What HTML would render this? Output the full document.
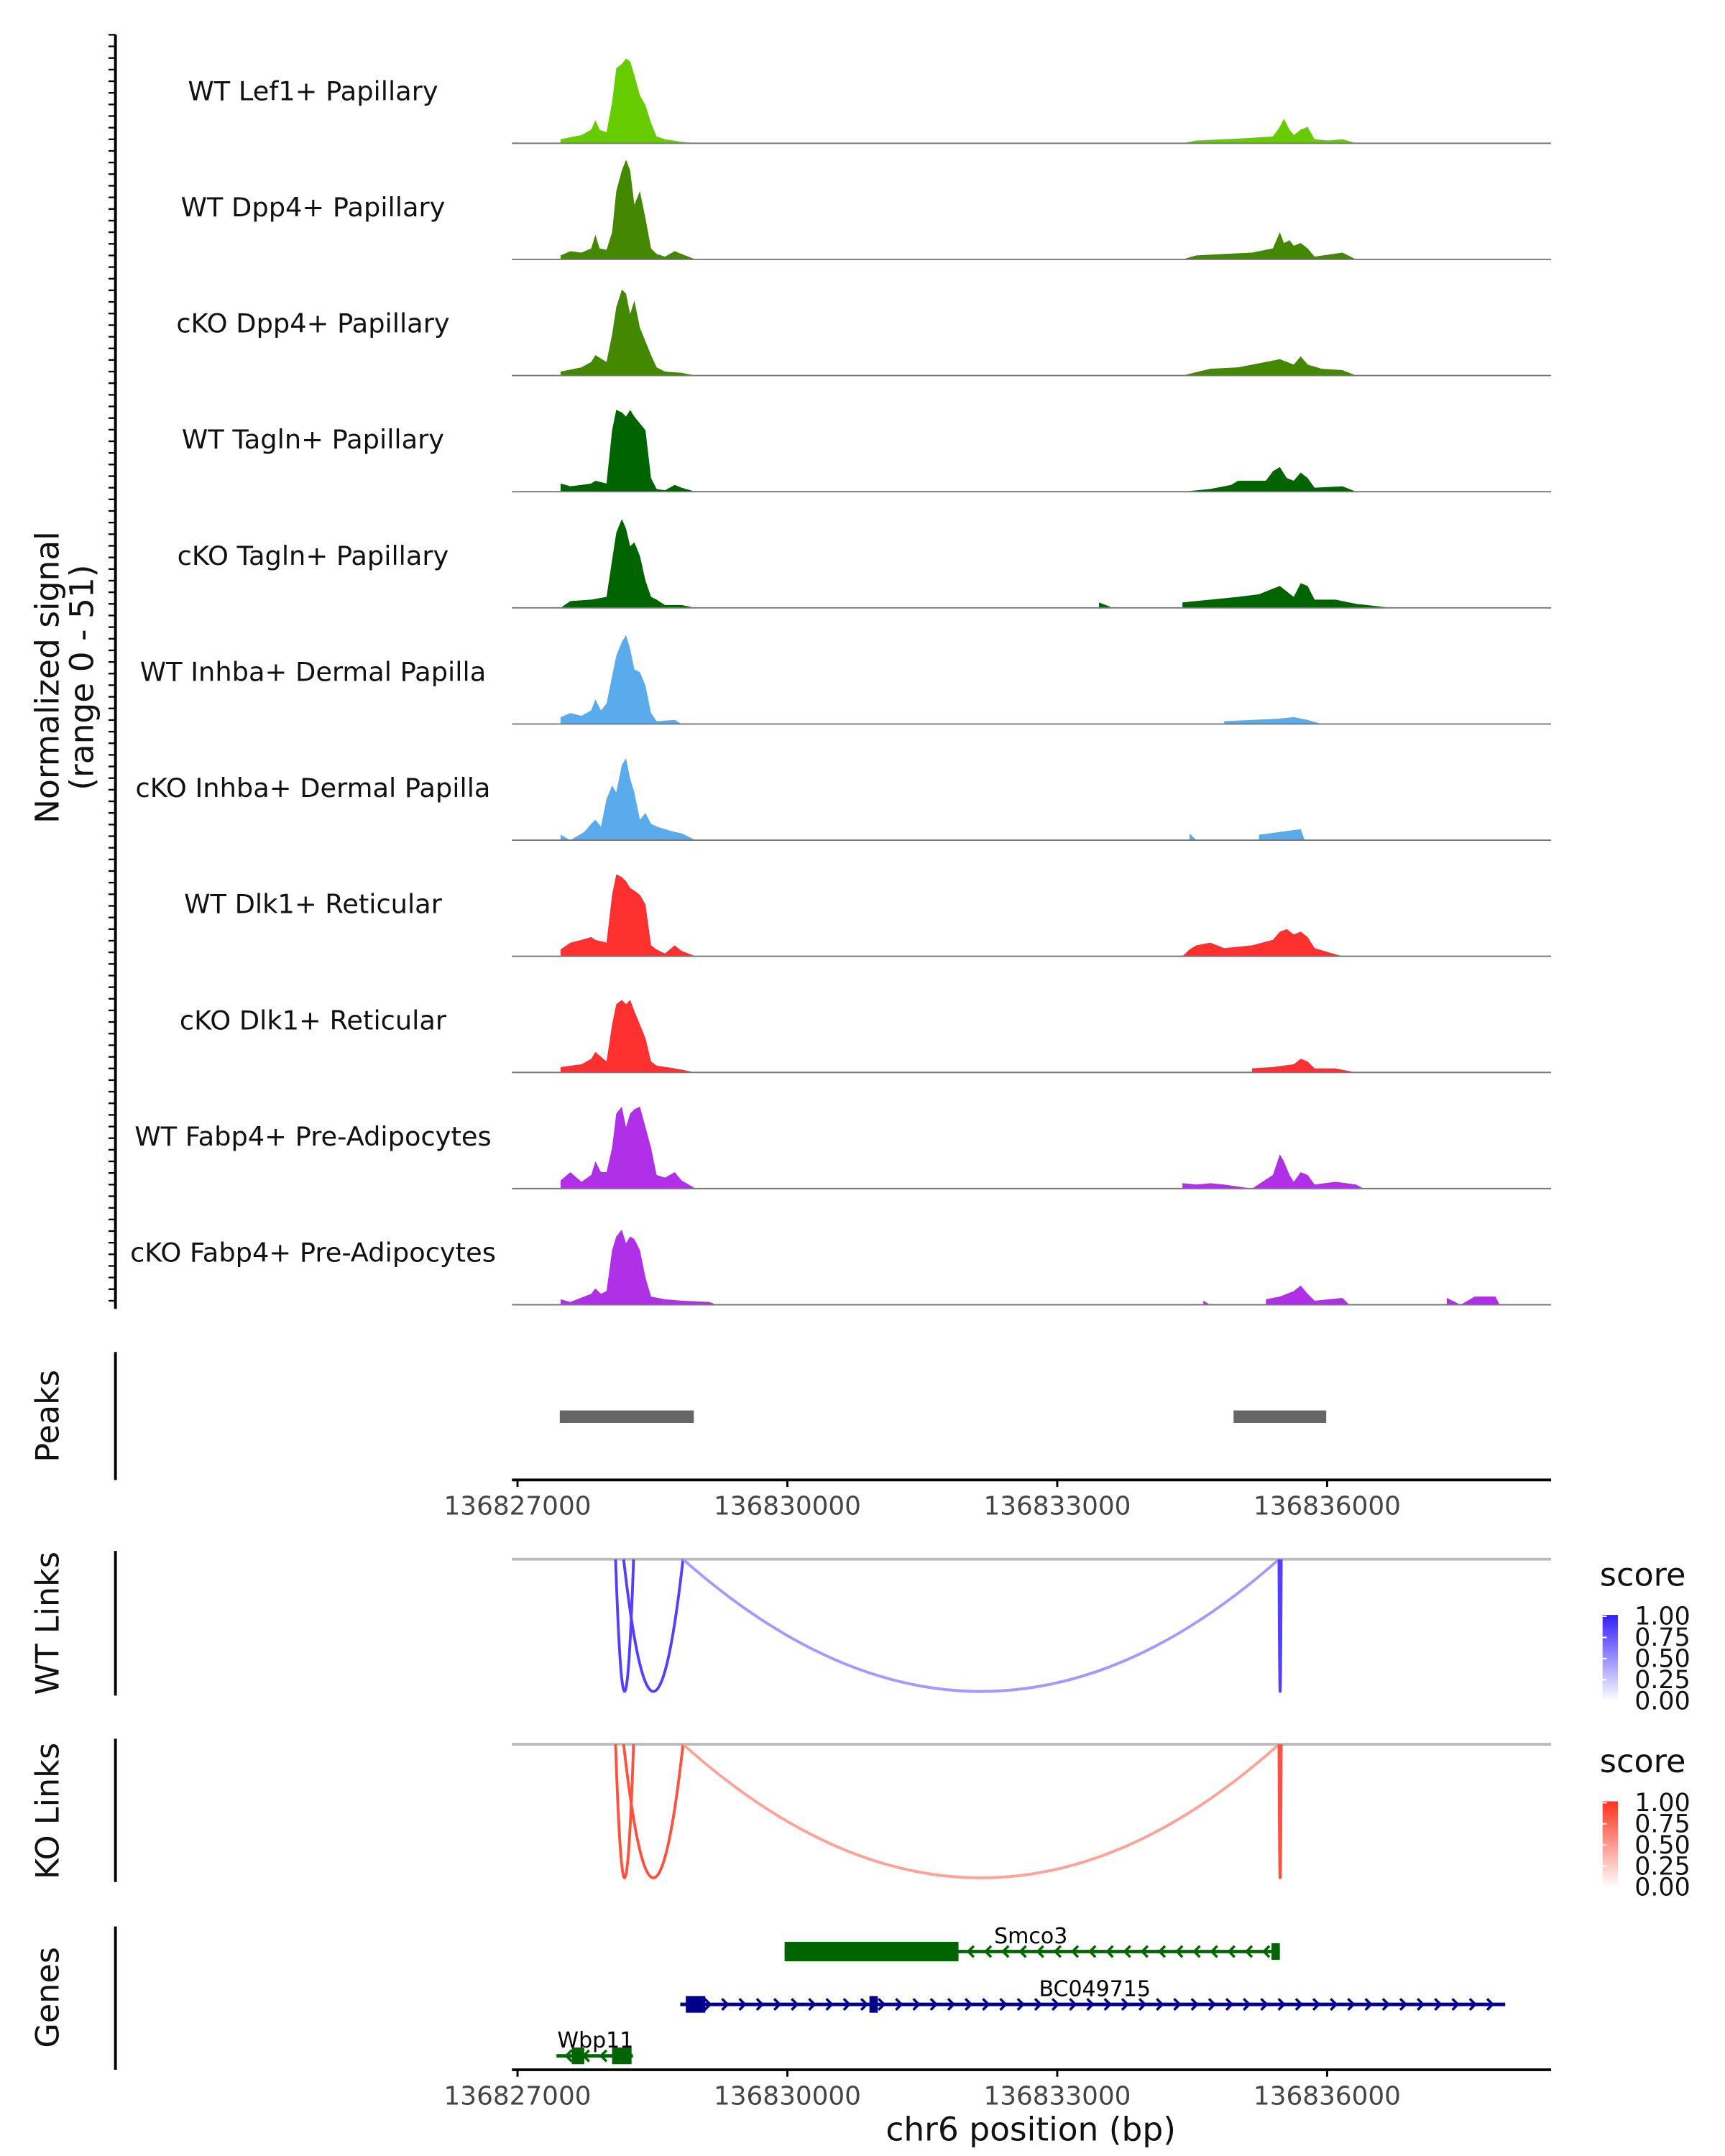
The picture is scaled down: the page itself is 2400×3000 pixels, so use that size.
<!DOCTYPE html>
<html><head><meta charset="utf-8"><style>
html,body{margin:0;padding:0;background:#fff;}
svg{display:block;font-family:"DejaVu Sans","Liberation Sans",sans-serif;}
</style></head><body>
<svg id="chart" width="2400" height="3000" viewBox="0 0 1240 1550" preserveAspectRatio="none" xmlns="http://www.w3.org/2000/svg">
<rect width="1240" height="1550" fill="#fff"/>
<text transform="translate(42,487) rotate(-90)" text-anchor="middle" font-size="23.5" fill="#111">Normalized signal</text>
<text transform="translate(67,487) rotate(-90)" text-anchor="middle" font-size="23.5" fill="#111">(range 0 - 51)</text>
<line x1="83" y1="25" x2="83" y2="941" stroke="#000" stroke-width="2"/>
<g id="ticks"></g>
<g id="tracks"></g>
<text transform="translate(42,1018) rotate(-90)" text-anchor="middle" font-size="23" fill="#111">Peaks</text>
<line x1="83" y1="972" x2="83" y2="1064" stroke="#000" stroke-width="2"/>
<g id="peaks"></g>
<g id="axis1"></g>
<text transform="translate(42,1167) rotate(-90)" text-anchor="middle" font-size="23" fill="#111">WT Links</text>
<line x1="83" y1="1115" x2="83" y2="1219" stroke="#000" stroke-width="2"/>
<text transform="translate(42,1302) rotate(-90)" text-anchor="middle" font-size="23" fill="#111">KO Links</text>
<line x1="83" y1="1250" x2="83" y2="1353" stroke="#000" stroke-width="2"/>
<g id="links"></g>
<text transform="translate(42,1436) rotate(-90)" text-anchor="middle" font-size="23" fill="#111">Genes</text>
<line x1="83" y1="1385" x2="83" y2="1488" stroke="#000" stroke-width="2"/>
<g id="genes"></g>
<g id="axis2"></g>
<text x="741" y="1539" text-anchor="middle" font-size="23.5" fill="#111">chr6 position (bp)</text>
</svg>
<script>
const START = 136827000;
const trackNames = ["WT Lef1+ Papillary","WT Dpp4+ Papillary","cKO Dpp4+ Papillary","WT Tagln+ Papillary","cKO Tagln+ Papillary","WT Inhba+ Dermal Papilla","cKO Inhba+ Dermal Papilla","WT Dlk1+ Reticular","cKO Dlk1+ Reticular","WT Fabp4+ Pre-Adipocytes","cKO Fabp4+ Pre-Adipocytes"];
const trackColors = ["#66cc00","#448800","#448800","#006400","#006400","#5aabeb","#5aabeb","#ff3030","#ff3030","#b030e8","#b030e8"];
// positions as bp offsets from START; values are signal
const pos1 = [480,711,820,866,912,990,1052,1098,1160,1206,1253,1299,1361,1423,1485,1546,1639,1825,1979, 7392,7546,7856,8165,8397,8474,8520,8582,8629,8706,8783,8861,9015,9170,9324];
const val1 = [3,6,10,17,10,8,30,55,58,62,60,50,35,28,15,5,3,1,0, 0,2,3,4,5,12,18,10,6,10,12,3,2,3,0];
const pos2 = [480,588,711,820,866,912,990,1052,1098,1160,1206,1253,1299,1361,1423,1485,1546,1639,1747,1825,1979, 7392,7546,7856,8165,8397,8474,8520,8582,8629,8706,8783,8861,9170,9324];
const val2 = [3,6,5,8,18,8,7,20,50,65,73,65,40,50,30,8,4,2,6,4,0, 0,3,4,5,8,20,12,14,10,12,8,2,5,0];
const pos3 = [480,711,820,866,990,1052,1098,1160,1206,1253,1299,1361,1423,1485,1546,1639,1825,1979, 7392,7701,8010,8320,8474,8629,8706,8783,8938,9170,9324];
const val3 = [3,6,10,15,10,30,50,63,60,45,55,35,25,15,6,3,2,0, 0,5,6,10,12,8,14,8,5,4,0];
const pos4 = [480,588,711,820,866,990,1052,1098,1160,1206,1253,1299,1361,1423,1485,1546,1639,1747,1825,1979, 7392,7701,7933,8010,8320,8397,8474,8551,8629,8706,8783,8861,9170,9324];
const val4 = [6,4,5,6,8,6,45,60,58,55,60,55,50,45,10,2,1,5,3,0, 0,2,5,8,8,15,18,10,8,14,10,3,4,0];
const pos5 = [480,588,820,990,1052,1098,1160,1206,1253,1299,1361,1423,1485,1546,1639,1825,1979, 6464,6619,7392,7701,8010,8242,8397,8474,8551,8629,8706,8783,8861,9093,9324,9711];
const val5 = [0,5,6,8,35,55,65,58,45,48,38,20,8,6,2,2,0, 4,0,4,6,8,10,14,16,12,8,18,16,6,6,3,0];
const pos6 = [480,588,711,820,866,928,990,1052,1098,1160,1206,1253,1299,1361,1423,1485,1546,1747,1825, 7856,8165,8474,8629,8783,8938];
const val6 = [5,8,6,10,18,10,15,35,50,60,65,55,40,38,28,8,2,3,0, 2,3,4,5,3,0];
const pos7 = [480,588,742,820,866,928,990,1052,1098,1160,1206,1253,1299,1361,1423,1485,1546,1639,1747,1825,1979, 7469,7546,8242,8474,8706,8752];
const val7 = [4,0,6,12,15,10,30,40,35,55,60,45,35,15,20,12,10,8,6,5,0, 5,0,4,6,8,0];
const pos8 = [480,588,711,820,866,990,1052,1098,1160,1206,1253,1299,1361,1423,1485,1546,1639,1747,1825,1979, 7392,7469,7546,7701,7856,8165,8397,8474,8551,8629,8706,8783,8861,9015,9170];
const val8 = [5,10,12,14,12,10,45,60,58,55,50,48,45,38,8,5,2,8,4,0, 0,5,8,10,6,8,12,18,20,16,18,14,6,3,0];
const pos9 = [480,711,820,866,990,1052,1098,1160,1206,1253,1299,1361,1423,1485,1546,1747,1825,1979, 8165,8397,8629,8706,8783,8861,9093,9324];
const val9 = [4,6,10,15,8,35,50,53,50,53,45,35,25,8,5,3,2,0, 3,4,6,10,8,3,3,0];
const pos10 = [480,588,711,820,866,928,990,1052,1098,1160,1206,1253,1299,1361,1423,1485,1546,1639,1747,1825,1979, 7392,7546,7701,7856,8165,8397,8474,8520,8582,8629,8706,8783,8861,9093,9324,9402];
const val10 = [6,12,5,10,20,12,12,30,55,60,45,55,58,60,45,30,10,8,12,6,0, 4,3,4,3,0,10,25,20,10,5,12,10,3,5,3,0];
const pos11 = [480,588,820,866,928,990,1052,1098,1160,1206,1253,1299,1361,1423,1485,1639,1825,2134,2211, 7624,7701,8320,8474,8551,8629,8706,8783,8861,9170,9248,10330,10485,10640,10871,10918];
const val11 = [4,2,8,12,8,10,40,50,55,45,50,48,40,20,6,4,3,2,0, 3,0,4,6,8,10,14,8,3,5,0,5,0,6,6,0];
const trackPos = [pos1,pos2,pos3,pos4,pos5,pos6,pos7,pos8,pos9,pos10,pos11];
const trackVals = [val1,val2,val3,val4,val5,val6,val7,val8,val9,val10,val11];

const peakStarts = [136827470, 136834960];
const peakEnds = [136828960, 136835990];
const axisTicks = [136827000,136830000,136833000,136836000];

const linkStarts = [136828090, 136828180, 136828840, 136835465];
const linkEnds = [136828290, 136828840, 136835465, 136835490];
const wtScores = [0.85, 0.85, 0.45, 0.85];
const koScores = [0.85, 0.85, 0.45, 0.85];

const NS = "http://www.w3.org/2000/svg";
const X0 = 368, X1 = 1115, BP0 = 136826938, BP1 = 136838490;
function xs(bp){ return X0 + (bp-BP0)/(BP1-BP0)*(X1-X0); }
const trackH = 83.5, base0 = 103, yMaxVal = 85;
function ys(v, base){ return base - v/yMaxVal*trackH; }
function mk(tag, attrs, parent){ const e=document.createElementNS(NS,tag); for(const k in attrs) e.setAttribute(k,attrs[k]); parent.appendChild(e); return e; }

const tg=document.getElementById('ticks');
for(let y=25;y<=941;y+=8.35){ mk('line',{x1:78,x2:83,y1:y,y2:y,stroke:'#000','stroke-width':1.2},tg); }

const tr=document.getElementById('tracks');
trackNames.forEach((nm,i)=>{
  const base = base0 + i*trackH;
  const g = mk('g',{},tr);
  
  
  const P=trackPos[i], V=trackVals[i];
  let d = 'M'+xs(START+P[0]).toFixed(1)+','+base;
  for(let k=0;k<P.length;k++){
    if(k>0 && P[k]-P[k-1]>500){
      d += ' L'+xs(START+P[k-1]).toFixed(1)+','+base+' L'+xs(START+P[k]).toFixed(1)+','+base;
    }
    d += ' L'+xs(START+P[k]).toFixed(1)+','+ys(V[k],base).toFixed(1);
  }
  d += ' L'+xs(START+P[P.length-1]).toFixed(1)+','+base+' Z';
  const a = mk('path',{d:d,fill:trackColors[i]},g);
  
  
  const bl = mk('line',{x1:X0,x2:X1,y1:base,y2:base,stroke:'#777','stroke-width':1},g);
  
  
  const t = mk('text',{x:225,y:base-31,'text-anchor':'middle','font-size':'19',fill:'#111'},g);
  t.textContent = nm;
  
  
});

const pg=document.getElementById('peaks');
peakStarts.forEach((s,i)=>{
  const r = mk('rect',{x:xs(s),y:1014,width:xs(peakEnds[i])-xs(s),height:9,fill:'#666'},pg);
  
  
});

function drawAxis(id, y){
  const g=document.getElementById(id);
  const l = mk('line',{x1:X0,x2:X1,y1:y,y2:y,stroke:'#000','stroke-width':2},g);
  
  
  axisTicks.forEach(t=>{
    const x=xs(t);
    mk('line',{x1:x,x2:x,y1:y,y2:y+5,stroke:'#000','stroke-width':1.5},g);
    const tx = mk('text',{x:x,y:y+25,'text-anchor':'middle','font-size':'18.5',fill:'#444'},g);
    tx.textContent = String(t);
    
    
  });
}
drawAxis('axis1',1064);
drawAxis('axis2',1488);

function colorFor(s, rgb){
  const r=Math.round(255+(rgb[0]-255)*s), g=Math.round(255+(rgb[1]-255)*s), b=Math.round(255+(rgb[2]-255)*s);
  return 'rgb('+r+','+g+','+b+')';
}
const lg=document.getElementById('links');
function drawLinks(top, bottom, scores, rgb, legendY, gid){
  mk('line',{x1:X0,x2:X1,y1:top,y2:top,stroke:'#bbb','stroke-width':2},lg);
  linkStarts.forEach((s,i)=>{
    const x1=xs(s), x2=xs(linkEnds[i]);
    const depth = (bottom-top)*2;
    const p = mk('path',{d:`M${x1},${top} Q${(x1+x2)/2},${top+depth} ${x2},${top}`,fill:'none',stroke:colorFor(scores[i],rgb),'stroke-width':2},lg);
    
    
  });
  const st = mk('text',{x:1150,y:legendY,'font-size':'23',fill:'#111'},lg);
  st.textContent='score';
  
  
  const grad = mk('linearGradient',{id:gid,x1:0,y1:1,x2:0,y2:0},lg);
  mk('stop',{offset:0,'stop-color':'#fff'},grad);
  mk('stop',{offset:1,'stop-color':colorFor(1,rgb)},grad);
  const by=legendY+21;
  const cb = mk('rect',{x:1152,y:by,width:11,height:62,fill:`url(#${gid})`},lg);
  
  
  ['1.00','0.75','0.50','0.25','0.00'].forEach((lbl,k)=>{
    const yy = by + 1 + k*15.2;
    mk('line',{x1:1152,x2:1155,y1:yy,y2:yy,stroke:'#fff'},lg);
    const t = mk('text',{x:1175,y:yy+6,'font-size':'18',fill:'#111'},lg);
    t.textContent=lbl;
    
    
  });
}
drawLinks(1121,1216,wtScores,[50,30,255],1140,'gwt');
drawLinks(1254,1350,koScores,[255,50,30],1274,'gko');

const gg=document.getElementById('genes');
function gene(name, y, from, to, boxes, color, dir, lx){
  const g=mk('g',{},gg);
  
  
  mk('line',{x1:from,x2:to,y1:y,y2:y,stroke:color,'stroke-width':2.5},g);
  for(let x=from+8;x<to-4;x+=12.5){
    const d = dir>0 ? `M${x-3},${y-4} L${x+1},${y} L${x-3},${y+4}` : `M${x+3},${y-4} L${x-1},${y} L${x+3},${y+4}`;
    mk('path',{d:d,fill:'none',stroke:color,'stroke-width':1.8},g);
  }
  boxes.forEach(b=>mk('rect',{x:b[0],y:y-b[2]/2,width:b[1]-b[0],height:b[2],fill:color},g));
  const t=mk('text',{x:lx,y:y-6,'text-anchor':'middle','font-size':'15.5',fill:'#000'},g);
  t.textContent=name;
}
gene('Smco3',1403,564,920,[[564,689,14],[914,920,12]],'#006400',-1,741);
gene('BC049715',1441,489,1082,[[493,507,12],[625,631,12]],'#00008b',1,787);
gene('Wbp11',1478,400,455,[[411,420,12],[440,454,12]],'#006400',-1,428);
</script>
</body></html>
